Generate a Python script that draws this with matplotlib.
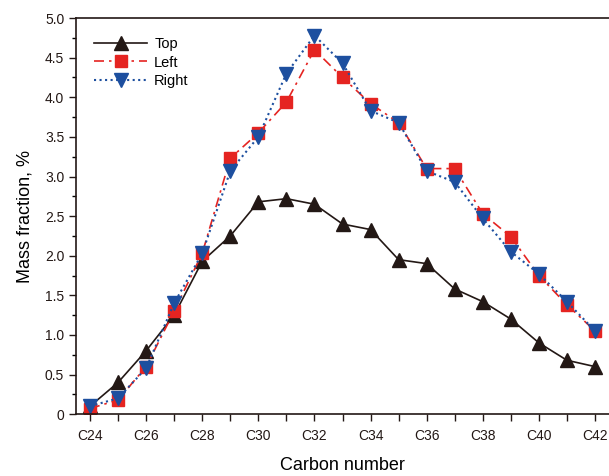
import numpy as np
import matplotlib.pyplot as plt

plt.rcParams['font.family'] = ['Liberation Sans', 'DejaVu Sans']

carbon = list(range(24, 43))
top = [0.10, 0.40, 0.80, 1.25, 1.93, 2.25, 2.68, 2.72, 2.65, 2.40, 2.33,
       1.95, 1.90, 1.58, 1.42, 1.20, 0.90, 0.68, 0.60]
left = [0.07, 0.18, 0.60, 1.30, 2.03, 3.23, 3.55, 3.94, 4.60, 4.25, 3.92,
        3.68, 3.10, 3.10, 2.53, 2.24, 1.75, 1.38, 1.05]
right = [0.10, 0.20, 0.58, 1.40, 2.03, 3.07, 3.50, 4.30, 4.78, 4.43, 3.83,
         3.68, 3.07, 2.93, 2.47, 2.05, 1.77, 1.42, 1.05]

fig = plt.figure(figsize=(6.09, 4.76), dpi=100)
ax = fig.add_axes([0.1248, 0.130, 0.8752, 0.832])

ax.plot(carbon, top, color='#231815', lw=1.2, ls='-', marker='^', ms=10,
        mec='#231815', label='Top')
ax.plot(carbon, left, color='#e52421', lw=1.2, ls=(0, (6, 3, 1.5, 3)),
        marker='s', ms=9, mec='#e52421', label='Left')
ax.plot(carbon, right, color='#1d4f9f', lw=1.5, ls=':', marker='v', ms=10,
        mec='#1d4f9f', label='Right')

ax.set_xlim(23.5, 42.5)
ax.set_ylim(0, 5)
ax.set_xticks(carbon)
ax.set_xticklabels([f'C{c}' if c % 2 == 0 else '' for c in carbon])
yt = np.arange(0, 5.01, 0.5)
ax.set_yticks(yt)
ax.set_yticklabels(['0'] + [f'{v:.1f}' for v in yt[1:]])
ax.set_yticks(np.arange(0.25, 5, 0.5), minor=True)
ax.tick_params(axis='both', direction='out', length=5, width=1, labelsize=10,
               colors='#231815')
ax.tick_params(axis='y', which='minor', length=3, width=1)
ax.tick_params(axis='x', pad=6)

for s in ['left', 'bottom', 'top']:
    ax.spines[s].set_linewidth(1.2)
    ax.spines[s].set_color('#231815')
ax.spines['right'].set_visible(False)

ax.set_xlabel('Carbon number', fontsize=13, labelpad=10)
ax.set_ylabel('Mass fraction, %', fontsize=13, labelpad=8)

ax.legend(loc='upper left', bbox_to_anchor=(0.01, 0.985), frameon=False,
          fontsize=10.5, handlelength=3.6, labelspacing=0.3, handletextpad=0.5)

fig.savefig('out.png', dpi=100)
